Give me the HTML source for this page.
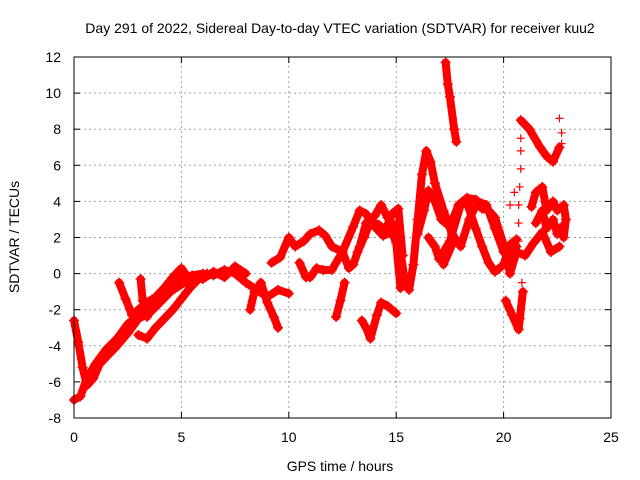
<!DOCTYPE html>
<html><head><meta charset="utf-8">
<style>
html,body{margin:0;padding:0;background:#fff;}
svg{display:block;font-family:"Liberation Sans",sans-serif;}
</style></head>
<body>
<svg id="chart" width="640" height="480" viewBox="0 0 640 480">
<rect x="0" y="0" width="640" height="480" fill="#fff"/>
<text x="340" y="33" font-size="14" text-anchor="middle">Day 291 of 2022, Sidereal Day-to-day VTEC variation (SDTVAR) for receiver kuu2</text>
<text x="340" y="471" font-size="14" text-anchor="middle">GPS time / hours</text>
<text transform="translate(19,237) rotate(-90)" font-size="14" text-anchor="middle">SDTVAR / TECUs</text>
<g id="grid"></g>
<g id="ticks"></g>
<g id="marks"></g>
<rect x="74" y="57" width="537" height="361" fill="none" stroke="#000" stroke-width="1"/>
</svg>
<script>
const xTicks = [0,5,10,15,20,25];
const yTicks = [-8,-6,-4,-2,0,2,4,6,8,10,12];
const track1 = [[0,-7],[0.3,-6.8],[0.6,-5.8],[1,-5],[1.5,-4.2],[2,-3.6],[2.5,-2.8],[3,-2.3],[3.5,-1.7],[4,-1.2],[4.5,-0.7],[5,-0.2],[5.5,-0.1],[6,0],[6.5,-0.1],[7,0.2],[7.5,0],[8,-0.5],[8.5,-0.9],[9,-1.3],[9.5,-0.9],[10,-1.1]];
const track2 = [[0,-2.6],[0.2,-3.8],[0.4,-5.2],[0.6,-6.2],[0.9,-5.8],[1.2,-5],[1.6,-4.5],[2,-4],[2.5,-3.3],[3,-2.5],[3.5,-2.2],[4,-1.6],[4.5,-1],[5,-0.6],[5.5,-0.3],[6,-0.3],[6.5,0.1],[7,-0.2],[7.5,0.4],[8,0]];
const track3 = [[2.1,-0.5],[2.4,-1.4],[2.7,-2.3],[3,-2],[3.4,-1.6],[3.8,-1.3],[4.2,-0.8],[4.6,-0.2],[5,0.3],[5.3,-0.2]];
const track4 = [[3,-3.4],[3.4,-3.6],[3.8,-3],[4.2,-2.5],[4.6,-2],[5,-1.4],[5.4,-0.8],[5.8,-0.3],[6.2,0]];
const track5 = [[3.1,-0.3],[3.2,-1.5],[3.4,-2.4]];
const track6 = [[8.2,-2],[8.4,-1],[8.7,-0.5],[9,-1.6],[9.3,-2.4],[9.5,-3]];
const track7 = [[9.2,0.6],[9.6,0.9],[10,2],[10.3,1.5],[10.7,1.8],[11,2.2],[11.4,2.4],[11.7,2.1],[12,1.5],[12.5,1.2],[12.8,0.3],[13,0.5],[13.3,1.5],[13.6,2.8],[14,3.2],[14.3,3.8],[14.6,3.1],[15,2.5],[15.2,1.2],[15.4,-0.4],[15.6,-0.9],[15.8,0.5],[16,3],[16.2,5.5],[16.4,6.8],[16.6,6.2],[16.8,5],[17.2,3.5],[17.6,2.2],[18,1.5],[18.4,3],[18.8,4],[19.2,3.8],[19.6,2.5],[20,1.2],[20.4,0.8],[20.6,1.5]];
const track7b = [[20.8,8.5],[21.2,8],[21.7,7],[22,6.5],[22.3,6.2],[22.6,7]];
const sparse = [[20.7,1.8],[20.7,2.8],[20.7,3.8],[20.75,4.8],[20.8,5.8],[20.8,6.8],[20.8,7.5],[20.85,-0.5],[20.85,-1.5],[20.8,-2.5],[20.3,3.8],[20.5,4.5],[22.6,8.6],[22.7,7.8],[22.7,7.2]];
const track8 = [[10.5,0.6],[10.8,-0.2],[11,-0.2],[11.3,0.3],[11.6,0.2],[12,0.2],[12.5,1.2],[13,2.6],[13.3,3.5],[13.6,3.3],[14,2.6],[14.4,2.1],[14.8,2.3],[15,1.7],[15.2,-0.8]];
const track9 = [[12.2,-2.4],[12.4,-1.5],[12.6,-0.5]];
const track10 = [[13.4,-2.6],[13.6,-3],[13.8,-3.6],[14.1,-2.3],[14.3,-1.6],[14.6,-1.8],[15,-2.2]];
const track11 = [[16,2.2],[16.3,3.5],[16.5,4.6],[16.8,4],[17.1,3],[17.5,2.6],[17.9,3.8],[18.3,4.2],[18.7,4.1],[19,3.6],[19.3,3.5],[19.6,3.1],[20,1.6],[20.3,0],[20.6,1.2],[21,1],[21.4,1.7],[21.8,2.3],[22.2,1.2],[22.6,1.5]];
const track12 = [[16.5,2],[16.8,1.5],[17,0.8],[17.5,1.8],[18,3.8],[18.3,3.9],[18.7,2.5],[19,1.5],[19.3,0.6],[19.6,0.1],[20,0.5],[20.3,1.6],[20.6,1.9]];
const track13 = [[17.2,0.5],[17.6,1.6]];
const track14 = [[20.1,-1.5],[20.4,-2.3],[20.7,-3.1],[20.9,-1]];
const track15 = [[21.3,3.7],[21.5,4.5],[21.8,4.8],[22,3.5],[22.3,4],[22.5,3.5],[22.8,3.8],[22.9,3],[22.8,2]];
const track16 = [[17.3,11.7],[17.4,10.5],[17.5,9.8],[17.7,8],[17.8,7.3]];
const track17 = [[13.2,1.2],[13.5,2],[13.8,2.9],[14.2,2.7],[14.5,2.4],[14.8,3.3],[15.1,3.6],[15.3,1]];
const track18 = [[21.5,2.8],[21.8,3.5],[22,2.5],[22.3,3],[22.5,2.2],[22.7,2.6]];
const tracks = [track1,track2,track3,track4,track5,track6,track7,track7b,track8,track9,track10,track11,track12,track13,track14,track15,track16,track17,track18];

const X0=74, X1=611, Y0=418, Y1=57, XMIN=0, XMAX=25, YMIN=-8, YMAX=12;
function sx(v){return X0+(v-XMIN)/(XMAX-XMIN)*(X1-X0);}
function sy(v){return Y0-(v-YMIN)/(YMAX-YMIN)*(Y0-Y1);}
const NS="http://www.w3.org/2000/svg";
const grid=document.getElementById('grid'), ticks=document.getElementById('ticks'), marks=document.getElementById('marks');
function mk(tag,attrs,parent){const e=document.createElementNS(NS,tag);for(const k in attrs)e.setAttribute(k,attrs[k]);parent.appendChild(e);return e;}
xTicks.forEach(t=>{
  const x=sx(t);
  if(t>XMIN&&t<XMAX){const g=mk('line',{x1:x,y1:Y0,x2:x,y2:Y1,stroke:'#a0a0a0','stroke-dasharray':'2,3'},grid);
  
  }
  const tl=mk('line',{x1:x,y1:Y0,x2:x,y2:Y0-6,stroke:'#000'},ticks);
  
  
  const tl2=mk('line',{x1:x,y1:Y1,x2:x,y2:Y1+6,stroke:'#000'},ticks);
  
  
  const tx=mk('text',{x:x,y:Y0+24,'font-size':'14','text-anchor':'middle'},ticks);
  tx.textContent=t;
  
  
});
yTicks.forEach(t=>{
  const y=sy(t);
  if(t>YMIN&&t<YMAX){const g=mk('line',{x1:X0,y1:y,x2:X1,y2:y,stroke:'#a0a0a0','stroke-dasharray':'2,3'},grid);
  
  }
  const tl=mk('line',{x1:X0,y1:y,x2:X0+6,y2:y,stroke:'#000'},ticks);
  
  
  const tl2=mk('line',{x1:X1,y1:y,x2:X1-6,y2:y,stroke:'#000'},ticks);
  
  
  const tx=mk('text',{x:X0-13,y:y+5,'font-size':'14','text-anchor':'end'},ticks);
  tx.textContent=t;
  
  
});
tracks.forEach((tr,i)=>{
  const pts=tr.map(p=>sx(p[0]).toFixed(1)+','+sy(p[1]).toFixed(1)).join(' ');
  const pl=mk('polyline',{points:pts,fill:'none',stroke:'#ff0000','stroke-width':'8','stroke-linejoin':'round','stroke-linecap':'round'},marks);
  
  
  tr.forEach(p=>{
    const x=sx(p[0]),y=sy(p[1]);
    const m=mk('path',{d:`M${x-5},${y}H${x+5}M${x},${y-5}V${y+5}`,stroke:'#ff0000','stroke-width':'1.5'},marks);
    
    
  });
});
sparse.forEach(p=>{
  const x=sx(p[0]),y=sy(p[1]);
  const m=mk('path',{d:`M${x-4},${y}H${x+4}M${x},${y-4}V${y+4}`,stroke:'#ff0000','stroke-width':'1.2'},marks);
  
  
});
</script>
</body></html>
